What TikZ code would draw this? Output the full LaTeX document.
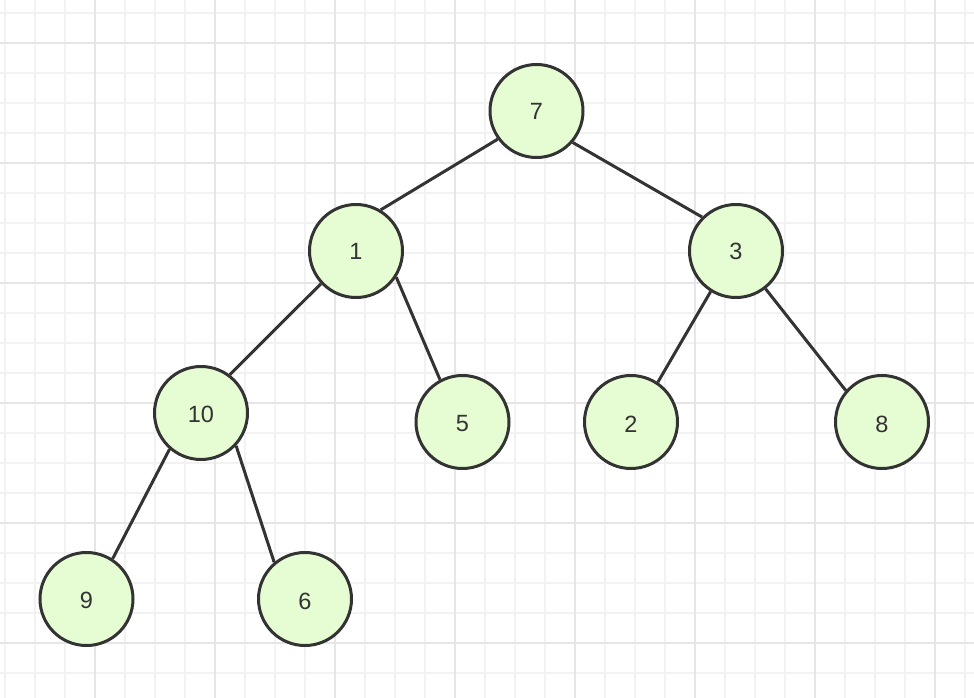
\documentclass[tikz,border=0pt]{standalone}
\usepackage{fontspec}
\setmainfont{Liberation Sans}
\definecolor{nodefill}{HTML}{E6FCD2}
\definecolor{nodedraw}{HTML}{333333}
\definecolor{gridminor}{HTML}{F2F2F2}
\definecolor{gridmajor}{HTML}{E6E6E6}
\tikzset{
  treenode/.style={circle, draw=nodedraw, fill=nodefill, line width=3pt, minimum size=93pt, inner sep=0pt},
  treelabel/.style={inner sep=0pt, font=\fontsize{23.5}{26}\selectfont, text=nodedraw},
  treeedge/.style={draw=nodedraw, line width=3pt},
  minorline/.style={draw=gridminor, line width=2pt},
  majorline/.style={draw=gridmajor, line width=2pt}
}
\begin{document}
\begin{tikzpicture}[x=1pt, y=-1pt]
\useasboundingbox (0,0) rectangle (974,698);
\fill[white] (0,0) rectangle (974,698);
% grid
\foreach \gx in {5,35,...,965} \draw[minorline] (\gx,0) -- (\gx,698);
\foreach \gy in {13,43,...,698} \draw[minorline] (0,\gy) -- (974,\gy);
\foreach \gx in {95,215,...,935} \draw[majorline] (\gx,0) -- (\gx,698);
\foreach \gy in {43,163,...,643} \draw[majorline] (0,\gy) -- (974,\gy);
% nodes
\node[treenode] (n7) at (536.5,111) {};
\node[treenode] (n1) at (356,251) {};
\node[treenode] (n3) at (736,251) {};
\node[treenode] (n10) at (201,413) {};
\node[treenode] (n5) at (462.5,422) {};
\node[treenode] (n2) at (631,422) {};
\node[treenode] (n8) at (882,422) {};
\node[treenode] (n9) at (86.5,599) {};
\node[treenode] (n6) at (305,599) {};
% edges
\draw[treeedge] (n7.216.7) -- (n1.59.5);
\draw[treeedge] (n7.319.4) -- (n3.135.5);
\draw[treeedge] (n1.223.9) -- (n10.53.4);
\draw[treeedge] (n1.327.6) -- (n5.118.5);
\draw[treeedge] (n3.238.8) -- (n2.56.5);
\draw[treeedge] (n3.308.2) -- (n8.139.8);
\draw[treeedge] (n10.229.8) -- (n9.57);
\draw[treeedge] (n10.317.4) -- (n6.130.9);
% labels
\node[treelabel] (l7) at (n7) {7};
\node[treelabel] (l1) at (n1) {1};
\node[treelabel] (l3) at (n3) {3};
\node[treelabel] (l10) at ([yshift=-1pt]n10.center) {10};
\node[treelabel] (l5) at ([yshift=-2pt]n5.center) {5};
\node[treelabel] (l2) at ([yshift=-2pt]n2.center) {2};
\node[treelabel] (l8) at ([yshift=-2pt]n8.center) {8};
\node[treelabel] (l9) at ([yshift=-1pt]n9.center) {9};
\node[treelabel] (l6) at ([yshift=-2pt]n6.center) {6};
\end{tikzpicture}
\end{document}
